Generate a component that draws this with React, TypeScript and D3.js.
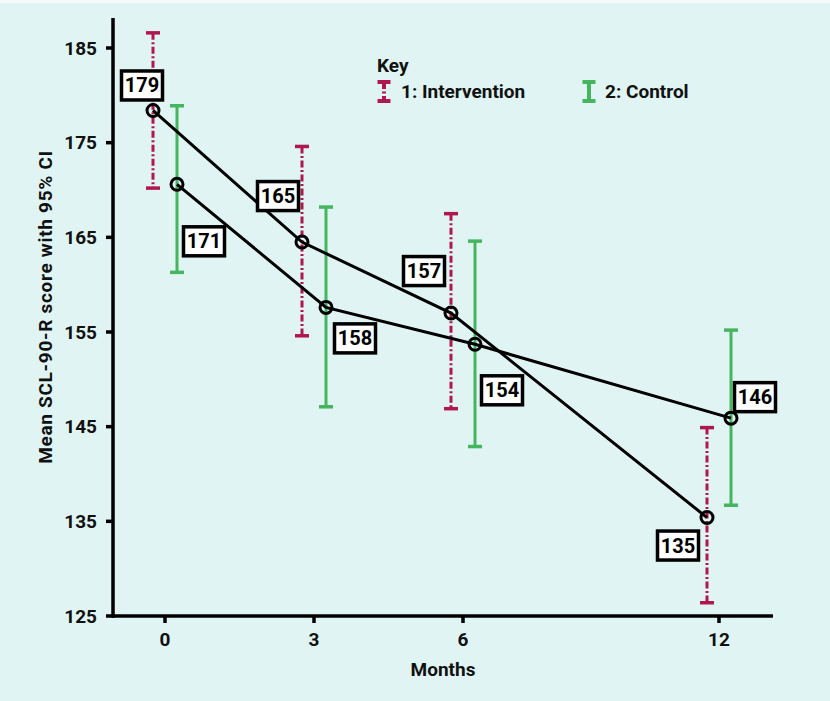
import React from "react";
import * as d3 from "d3";

const months = [0, 3, 6, 12];
const interventionMean = [178.4, 164.5, 157.0, 135.4];
const interventionLow = [170.2, 154.6, 146.9, 126.4];
const interventionHigh = [186.6, 174.6, 167.5, 144.9];
const controlMean = [170.6, 157.6, 153.7, 145.9];
const controlLow = [161.3, 147.1, 142.9, 136.7];
const controlHigh = [178.9, 168.2, 164.6, 155.2];
const interventionLabels = ["179", "165", "157", "135"];
const controlLabels = ["171", "158", "154", "146"];
const yTicks = [125, 135, 145, 155, 165, 175, 185];

// label placement offsets relative to point (layout only)
const intLabelOffset = [[-11, -25], [-24, -46], [-27, -42], [-29, 28]];
const ctlLabelOffset = [[27, 57], [29, 31], [27, 46], [24, -21]];

const W = 830;
const H = 701;
const BG = "#e0f5f3";
const MAGENTA = "#b0174f";
const GREEN = "#45b55e";
const FONT = "Roboto, 'DejaVu Sans', sans-serif";

export default function App() {
  const x = d3.scaleLinear().domain([0, 6, 12]).range([165, 463, 719]);
  const y = d3.scaleLinear().domain([125, 185]).range([616, 48]);
  const axisLeft = 113;
  const axisRight = 773;
  const axisTop = 18;
  const axisBottom = 616;
  const off = 12;

  const line = d3
    .line<[number, number]>()
    .x((d) => d[0])
    .y((d) => d[1]);

  const intPts: [number, number][] = months.map((m, i) => [x(m) - off, y(interventionMean[i])]);
  const ctlPts: [number, number][] = months.map((m, i) => [x(m) + off, y(controlMean[i])]);

  const labelBox = (cx: number, cy: number, text: string, key: string) => (
    <g key={key}>
      <rect x={cx - 20.5} y={cy - 14.5} width={41} height={29} fill="#fff" stroke="#000" strokeWidth={3.5} />
      <text x={cx} y={cy + 7} textAnchor="middle" fontFamily={FONT} fontWeight={700} fontSize={20} fill="#000">
        {text}
      </text>
    </g>
  );

  return (
    <svg width={W} height={H} style={{ position: "absolute", left: 0, top: 0 }}>
      <rect x={0} y={0} width={W} height={H} fill="#f4fbfa" />
      <rect x={0} y={3} width={W} height={H - 3} fill={BG} />

      {/* error bars */}
      {months.map((m, i) => {
        const cx = x(m) - off;
        return (
          <g key={"ie" + i} stroke={MAGENTA} strokeWidth={3}>
            <line x1={cx} x2={cx} y1={y(interventionHigh[i])} y2={y(interventionLow[i])} strokeDasharray="7,2.5,2,2.5" />
            <line x1={cx - 7} x2={cx + 7} y1={y(interventionHigh[i])} y2={y(interventionHigh[i])} strokeWidth={3.5} />
            <line x1={cx - 7} x2={cx + 7} y1={y(interventionLow[i])} y2={y(interventionLow[i])} strokeWidth={3.5} />
          </g>
        );
      })}
      {months.map((m, i) => {
        const cx = x(m) + off;
        return (
          <g key={"ce" + i} stroke={GREEN} strokeWidth={3}>
            <line x1={cx} x2={cx} y1={y(controlHigh[i])} y2={y(controlLow[i])} />
            <line x1={cx - 7} x2={cx + 7} y1={y(controlHigh[i])} y2={y(controlHigh[i])} strokeWidth={3.5} />
            <line x1={cx - 7} x2={cx + 7} y1={y(controlLow[i])} y2={y(controlLow[i])} strokeWidth={3.5} />
          </g>
        );
      })}

      {/* lines */}
      <path d={line(intPts) || ""} fill="none" stroke="#000" strokeWidth={3} />
      <path d={line(ctlPts) || ""} fill="none" stroke="#000" strokeWidth={3} />
      {intPts.concat(ctlPts).map((p, i) => (
        <circle key={"c" + i} cx={p[0]} cy={p[1]} r={6} fill="none" stroke="#000" strokeWidth={3} />
      ))}

      {/* labels */}
      {intPts.map((p, i) => labelBox(p[0] + intLabelOffset[i][0], p[1] + intLabelOffset[i][1], interventionLabels[i], "il" + i))}
      {ctlPts.map((p, i) => labelBox(p[0] + ctlLabelOffset[i][0], p[1] + ctlLabelOffset[i][1], controlLabels[i], "cl" + i))}

      {/* axes */}
      <line x1={axisLeft} x2={axisLeft} y1={axisTop} y2={axisBottom + 1.75} stroke="#000" strokeWidth={3.5} />
      <line x1={axisLeft} x2={axisRight} y1={axisBottom} y2={axisBottom} stroke="#000" strokeWidth={3.5} />
      {yTicks.map((t) => (
        <g key={"yt" + t}>
          <line x1={axisLeft - 7} x2={axisLeft} y1={y(t)} y2={y(t)} stroke="#000" strokeWidth={3.5} />
          <text x={97} y={y(t) + 6.5} textAnchor="end" fontFamily={FONT} fontWeight={700} fontSize={19} fill="#111">
            {t}
          </text>
        </g>
      ))}
      {months.map((m) => (
        <g key={"xt" + m}>
          <line x1={x(m)} x2={x(m)} y1={axisBottom} y2={axisBottom + 7} stroke="#000" strokeWidth={3.5} />
          <text x={x(m)} y={646} textAnchor="middle" fontFamily={FONT} fontWeight={700} fontSize={19} fill="#111">
            {m}
          </text>
        </g>
      ))}
      <text x={443} y={676} textAnchor="middle" fontFamily={FONT} fontWeight={700} fontSize={19} fill="#111">
        Months
      </text>
      <text
        transform={`translate(52, 307) rotate(-90)`}
        textAnchor="middle"
        fontFamily={FONT}
        fontWeight={700}
        fontSize={19}
        letterSpacing={0.7}
        fill="#111"
      >
        Mean SCL-90-R score with 95% CI
      </text>

      {/* legend */}
      <text x={377} y={72} fontFamily={FONT} fontWeight={700} fontSize={19} fill="#111">
        Key
      </text>
      <g stroke={MAGENTA} strokeWidth={4}>
        <line x1={384} x2={384} y1={82} y2={101} strokeDasharray="7,2.5,2,2.5" />
        <line x1={377.5} x2={390.5} y1={82} y2={82} />
        <line x1={377.5} x2={390.5} y1={101} y2={101} />
      </g>
      <text x={401} y={98} fontFamily={FONT} fontWeight={700} fontSize={19} fill="#111">
        1: Intervention
      </text>
      <g stroke={GREEN} strokeWidth={4}>
        <line x1={589} x2={589} y1={82} y2={101} />
        <line x1={582.5} x2={595.5} y1={82} y2={82} />
        <line x1={582.5} x2={595.5} y1={101} y2={101} />
      </g>
      <text x={605} y={98} fontFamily={FONT} fontWeight={700} fontSize={19} fill="#111">
        2: Control
      </text>
    </svg>
  );
}
